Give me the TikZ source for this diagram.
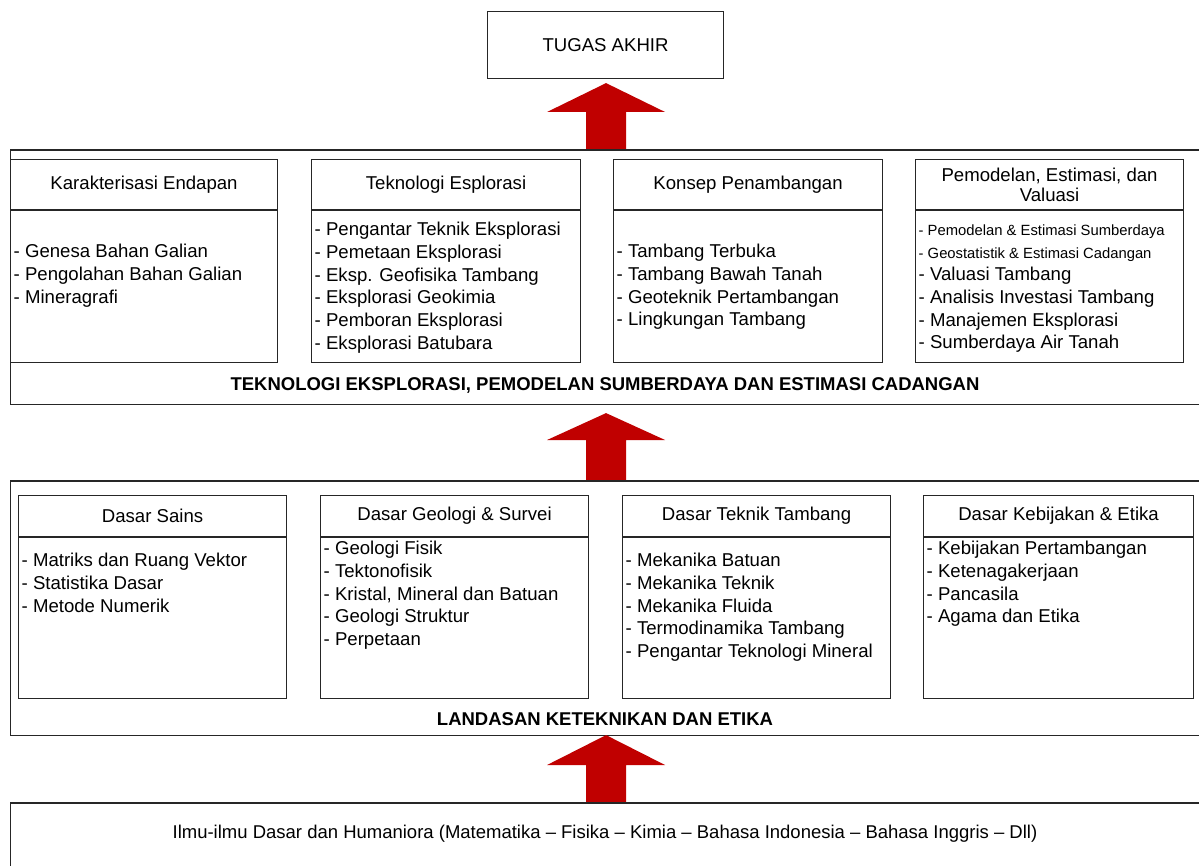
\documentclass[tikz,border=0pt]{standalone}
\usepackage{fontspec}
\setmainfont{Liberation Sans}
\usetikzlibrary{calc}
\definecolor{arrred}{HTML}{C00000}
\definecolor{linec}{HTML}{262626}
\newcommand\mkcourse[9]{%
  \node[box,minimum width=#4pt,minimum height=203pt] (#1) at (#2,#3) {};
  \draw[divl] ([yshift=-#5pt]#1.north west) -- ([yshift=-#5pt]#1.north east);
  \node[hd] (#1h) at ($(#1.north)+(0,#5/2)$) {#6};
  \node[lst] (#1l) at ($(#1.north west)+(3.5,#7)$) {#8};
  #9}
\begin{document}
\begin{tikzpicture}[x=1pt,y=-1pt,
  box/.style={draw=linec,line width=1.1pt,anchor=north west,inner sep=0pt},
  divl/.style={draw=linec,line width=1.1pt},
  hd/.style={font=\fontsize{18.6}{20}\selectfont,align=center,inner sep=0pt},
  lst/.style={anchor=north west,align=left,inner sep=0pt,font=\fontsize{18.6}{22.7}\selectfont},
  small/.style={anchor=north west,align=left,inner sep=0pt,font=\fontsize{14.8}{23}\selectfont},
  ttl/.style={font=\bfseries\fontsize{18.5}{20}\selectfont,inner sep=0pt},
  arr/.style={fill=arrred}]
\useasboundingbox (0,0) rectangle (1199,866);
\node[box,minimum width=236pt,minimum height=67pt,font=\fontsize{18.6}{20}\selectfont] (ta) at (487,11) {TUGAS AKHIR};
\node[box,minimum width=1191pt,minimum height=254pt] (mid) at (10,150) {};
\node[box,minimum width=1191pt,minimum height=254pt] (low) at (10,481) {};
\node[box,minimum width=1191pt,minimum height=72pt] (base) at (10,803) {};
% red arrows
\fill[arr] ([xshift=-20pt]mid.north) -- ([xshift=-20pt,yshift=38pt]mid.north) -- ([xshift=-59pt,yshift=38pt]mid.north)
  -- ([yshift=-4pt]ta.south -| mid.north) -- ([xshift=59pt,yshift=38pt]mid.north) -- ([xshift=20pt,yshift=38pt]mid.north)
  -- ([xshift=20pt]mid.north) -- cycle;
\fill[arr] ([xshift=-20pt]low.north) -- ([xshift=-20pt,yshift=41pt]low.north) -- ([xshift=-59pt,yshift=41pt]low.north)
  -- ([yshift=-8pt]mid.south -| low.north) -- ([xshift=59pt,yshift=41pt]low.north) -- ([xshift=20pt,yshift=41pt]low.north)
  -- ([xshift=20pt]low.north) -- cycle;
\fill[arr] ([xshift=-20pt]base.north) -- ([xshift=-20pt,yshift=38pt]base.north) -- ([xshift=-59pt,yshift=38pt]base.north)
  -- ([yshift=1pt]low.south -| base.north) -- ([xshift=59pt,yshift=38pt]base.north) -- ([xshift=20pt,yshift=38pt]base.north)
  -- ([xshift=20pt]base.north) -- cycle;
\draw[divl] (mid.north west) -- (mid.north east);
\draw[divl] (low.north west) -- (low.north east);
\draw[divl] (base.north west) -- (base.north east);
% upper courses
\mkcourse{u1}{10}{159}{267}{51}{Karakterisasi Endapan}{85}{- Genesa Bahan Galian\\- Pengolahan Bahan Galian\\- Mineragrafi}{}
\mkcourse{u2}{311}{159}{269}{51}{Teknologi Esplorasi}{63}{- Pengantar Teknik Eksplorasi\\- Pemetaan Eksplorasi\\- Eksp. Geofisika Tambang\\- Eksplorasi Geokimia\\- Pemboran Eksplorasi\\- Eksplorasi Batubara}{}
\mkcourse{u3}{613}{159}{269}{51}{Konsep Penambangan}{85}{- Tambang Terbuka\\- Tambang Bawah Tanah\\- Geoteknik Pertambangan\\- Lingkungan Tambang}{}
\mkcourse{u4}{915}{159}{268}{51}{Pemodelan, Estimasi, dan\\Valuasi}{108}{- Valuasi Tambang\\- Analisis Investasi Tambang\\- Manajemen Eksplorasi\\- Sumberdaya Air Tanah}{\node[small] (u4s) at ($(u4.north west)+(3.5,65.5)$) {- Pemodelan \& Estimasi Sumberdaya\\- Geostatistik \& Estimasi Cadangan};}
\node[ttl] (midt) at (605,385) {TEKNOLOGI EKSPLORASI, PEMODELAN SUMBERDAYA DAN ESTIMASI CADANGAN};
% lower courses
\mkcourse{l1}{18}{495}{268}{42}{Dasar Sains}{58}{- Matriks dan Ruang Vektor\\- Statistika Dasar\\- Metode Numerik}{}
\mkcourse{l2}{320}{495}{268}{42}{Dasar Geologi \& Survei}{46}{- Geologi Fisik\\- Tektonofisik\\- Kristal, Mineral dan Batuan\\- Geologi Struktur\\- Perpetaan}{}
\mkcourse{l3}{622}{495}{268}{42}{Dasar Teknik Tambang}{58}{- Mekanika Batuan\\- Mekanika Teknik\\- Mekanika Fluida\\- Termodinamika Tambang\\- Pengantar Teknologi Mineral}{}
\mkcourse{l4}{923}{495}{270}{42}{Dasar Kebijakan \& Etika}{46}{- Kebijakan Pertambangan\\- Ketenagakerjaan\\- Pancasila\\- Agama dan Etika}{}
\node[ttl] (lowt) at (605,719) {LANDASAN KETEKNIKAN DAN ETIKA};
\node[font=\fontsize{18.5}{20}\selectfont,inner sep=0pt] (baset) at (605,834) {Ilmu-ilmu Dasar dan Humaniora (Matematika – Fisika – Kimia – Bahasa Indonesia – Bahasa Inggris – Dll)};
\end{tikzpicture}
\end{document}
